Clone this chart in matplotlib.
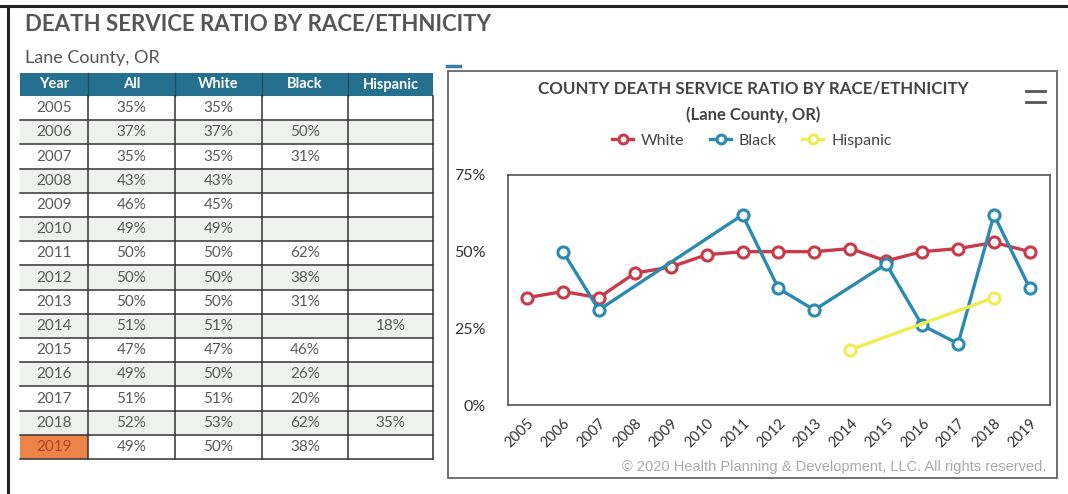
import numpy as np
import matplotlib
matplotlib.use("Agg")
import matplotlib.pyplot as plt
from matplotlib.patches import Rectangle

# ---- data ----
years = ["2005", "2006", "2007", "2008", "2009", "2010", "2011", "2012",
         "2013", "2014", "2015", "2016", "2017", "2018", "2019"]
all_pct = [35, 37, 35, 43, 46, 49, 50, 50, 50, 51, 47, 49, 51, 52, 49]
white_pct = [35, 37, 35, 43, 45, 49, 50, 50, 50, 51, 47, 50, 51, 53, 50]
black_pct = [None, 50, 31, None, None, None, 62, 38, 31, None, 46, 26, 20, 62, 38]
hispanic_pct = [None, None, None, None, None, None, None, None, None, 18,
                None, None, None, 35, None]
columns = ["Year", "All", "White", "Black", "Hispanic"]
y_ticks = [0, 25, 50, 75]

W, H = 1068, 494
fig = plt.figure(figsize=(W / 100, H / 100), dpi=100)
plt.rcParams["font.family"] = ["Lato", "DejaVu Sans"]

# pixel-space overlay for the page furniture and the table
page = fig.add_axes([0, 0, 1, 1])
page.set_xlim(0, W)
page.set_ylim(H, 0)
page.axis("off")

TXT = "#5a5a5a"
page.plot([0, W], [6, 6], color="#222222", lw=2.2)
page.plot([8, 8], [6, H], color="#222222", lw=2.2)

page.text(25, 25, "DEATH SERVICE RATIO BY RACE/ETHNICITY", fontsize=16,
          fontweight="bold", color="#555555", va="center", ha="left")
page.text(25, 58, "Lane County, OR", fontsize=13, color="#555555",
          va="center", ha="left")

# table
col_x = [20, 88, 175, 262, 348, 433]
head_top, head_bot = 73, 96
row_h = (459 - head_bot) / len(years)
page.add_patch(Rectangle((col_x[0], head_top), col_x[-1] - col_x[0],
                         head_bot - head_top, facecolor="#25708e",
                         edgecolor="none"))
for j, name in enumerate(columns):
    cx = (col_x[j] + col_x[j + 1]) / 2
    page.text(cx, (head_top + head_bot) / 2, name, color="white",
              fontsize=10.5, fontweight="bold", ha="center", va="center")
for j in range(1, 5):
    page.plot([col_x[j], col_x[j]], [head_top, head_bot], color="#1d4f63",
              lw=1)


def fmt(v):
    return "" if v is None else f"{v}%"


for i, yr in enumerate(years):
    top = head_bot + i * row_h
    if i % 2 == 1:
        page.add_patch(Rectangle((col_x[0], top), col_x[-1] - col_x[0], row_h,
                                 facecolor="#eef1ee", edgecolor="none"))
    if yr == "2019":
        page.add_patch(Rectangle((col_x[0], top), col_x[1] - col_x[0], row_h,
                                 facecolor="#ec8447", edgecolor="none"))
    vals = [yr, fmt(all_pct[i]), fmt(white_pct[i]), fmt(black_pct[i]),
            fmt(hispanic_pct[i])]
    for j, v in enumerate(vals):
        cx = (col_x[j] + col_x[j + 1]) / 2
        color = "#b0432a" if (yr == "2019" and j == 0) else TXT
        page.text(cx, top + row_h / 2, v, fontsize=11, color=color,
                  ha="center", va="center")
    page.plot([col_x[0], col_x[-1]], [top + row_h, top + row_h],
              color="#333333", lw=1.1)
for j in range(1, 6):
    page.plot([col_x[j], col_x[j]], [head_bot, head_bot + row_h * len(years)],
              color="#333333", lw=1.1)

# chart frame
page.add_patch(Rectangle((448, 71), 1057 - 448, 478 - 71, facecolor="none",
                         edgecolor="#666666", lw=1.3))
page.plot([447, 460], [66, 66], color="#3b7da6", lw=2.5)
page.text(753, 89, "COUNTY DEATH SERVICE RATIO BY RACE/ETHNICITY",
          fontsize=12.2, fontweight="bold", color="#444444", ha="center",
          va="center")
page.text(753, 115, "(Lane County, OR)", fontsize=12, fontweight="bold",
          color="#444444", ha="center", va="center")
for yy in (91, 102):
    page.plot([1026, 1045], [yy, yy], color="#555555", lw=2.0)
page.text(1046, 467, "\u00a9 2020 Health Planning & Development, LLC. All rights reserved.",
          fontsize=10.5, color="#aaaaaa", ha="right", va="center",
          family=["Liberation Sans Narrow", "Liberation Sans", "DejaVu Sans"])

# line chart
L, R, T, B = 508, 1050, 175, 405
ax = fig.add_axes([L / W, 1 - B / H, (R - L) / W, (B - T) / H])
x = np.arange(len(years))


def series(vals):
    arr = np.array([np.nan if v is None else v for v in vals], dtype=float)
    m = ~np.isnan(arr)
    return x[m], arr[m]


styles = [("White", white_pct, "#c93a4a"),
          ("Black", black_pct, "#2a8ab0"),
          ("Hispanic", hispanic_pct, "#eeee50")]
handles = []
for name, vals, col in styles:
    xs, ys = series(vals)
    h, = ax.plot(xs, ys, color=col, lw=2.4, marker="o", markersize=8,
                 markerfacecolor="white", markeredgecolor=col,
                 markeredgewidth=2.2, label=name, zorder=3)
    handles.append(h)

ax.set_xlim(-0.53, 14.56)
ax.set_ylim(0, 75)
ax.set_yticks(y_ticks)
ax.set_yticklabels([f"{v}%" for v in y_ticks], fontsize=11.5, color="#333333")
ax.set_xticks(x)
ax.set_xticklabels(years, rotation=45, ha="right", rotation_mode="anchor",
                   fontsize=10.5, color="#333333")
ax.tick_params(length=0, pad=8)
ax.tick_params(axis="y", pad=16)
for s in ax.spines.values():
    s.set_color("#555555")
    s.set_linewidth(1.2)

fig.legend(handles=handles, loc="center", bbox_to_anchor=(752 / W, 1 - 141 / H),
           ncol=3, frameon=False, fontsize=11.5, handlelength=1.3,
           handletextpad=0.5, columnspacing=1.6, labelcolor="#444444",
           markerscale=0.8)

fig.savefig("out.png", dpi=100)
